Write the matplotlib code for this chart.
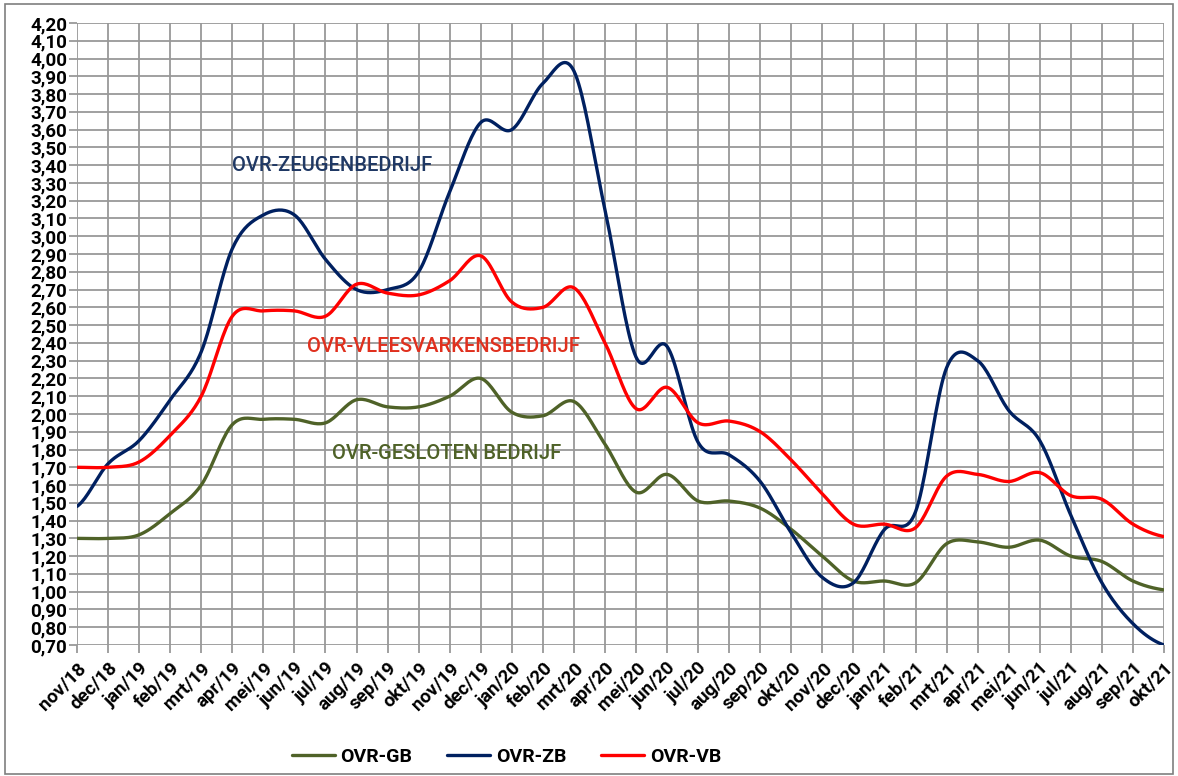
import numpy as np
import matplotlib.pyplot as plt
from matplotlib.ticker import MultipleLocator, FuncFormatter

# maanden nov/18 .. okt/21
maanden = ['nov/18', 'dec/18', 'jan/19', 'feb/19', 'mrt/19', 'apr/19', 'mei/19', 'jun/19',
           'jul/19', 'aug/19', 'sep/19', 'okt/19', 'nov/19', 'dec/19', 'jan/20', 'feb/20',
           'mrt/20', 'apr/20', 'mei/20', 'jun/20', 'jul/20', 'aug/20', 'sep/20', 'okt/20',
           'nov/20', 'dec/20', 'jan/21', 'feb/21', 'mrt/21', 'apr/21', 'mei/21', 'jun/21',
           'jul/21', 'aug/21', 'sep/21', 'okt/21']

ovr_gb = [1.30, 1.30, 1.32, 1.44, 1.60, 1.94, 1.97, 1.97, 1.95, 2.08, 2.04, 2.04,
          2.10, 2.20, 2.01, 1.99, 2.07, 1.83, 1.56, 1.66, 1.51, 1.51, 1.47, 1.35,
          1.20, 1.06, 1.06, 1.05, 1.27, 1.28, 1.25, 1.29, 1.20, 1.17, 1.06, 1.01]

ovr_zb = [1.48, 1.72, 1.85, 2.08, 2.35, 2.93, 3.12, 3.12, 2.87, 2.70, 2.70, 2.80,
          3.25, 3.64, 3.60, 3.86, 3.93, 3.15, 2.32, 2.38, 1.84, 1.77, 1.62, 1.33,
          1.08, 1.05, 1.35, 1.45, 2.26, 2.30, 2.02, 1.85, 1.43, 1.05, 0.82, 0.70]

ovr_vb = [1.70, 1.70, 1.73, 1.88, 2.10, 2.55, 2.58, 2.58, 2.55, 2.73, 2.68, 2.67,
          2.75, 2.89, 2.63, 2.60, 2.71, 2.40, 2.03, 2.15, 1.95, 1.96, 1.90, 1.74,
          1.55, 1.38, 1.38, 1.36, 1.65, 1.66, 1.62, 1.67, 1.54, 1.52, 1.38, 1.31]


# vloeiende lijn zoals in Excel (Catmull-Rom)
def glad(y, n=20):
    y = np.asarray(y, dtype=float)
    p = np.concatenate([[y[0]], y, [y[-1]]])
    xs, ys = [], []
    for i in range(len(y) - 1):
        p0, p1, p2, p3 = p[i], p[i + 1], p[i + 2], p[i + 3]
        t = np.linspace(0, 1, n, endpoint=False)
        v = 0.5 * (2 * p1 + (-p0 + p2) * t + (2 * p0 - 5 * p1 + 4 * p2 - p3) * t ** 2
                   + (-p0 + 3 * p1 - 3 * p2 + p3) * t ** 3)
        xs.extend(i + t)
        ys.extend(v)
    xs.append(len(y) - 1)
    ys.append(y[-1])
    return np.array(xs), np.array(ys)


plt.rcParams['font.family'] = ['Roboto', 'DejaVu Sans']

fig = plt.figure(figsize=(11.78, 7.76), dpi=100)
ax = fig.add_axes([77 / 1178, 1 - 645 / 776, (1164 - 77) / 1178, (645 - 23) / 776])

fig.patches.append(plt.Rectangle((0.004, 0.003), 0.992, 0.992, transform=fig.transFigure,
                                 fill=False, edgecolor='#7f7f7f', linewidth=1.2))

x = np.arange(len(maanden))
for data, kleur, naam in [(ovr_gb, '#4F6228', 'OVR-GB'),
                          (ovr_zb, '#002060', 'OVR-ZB'),
                          (ovr_vb, '#FF0000', 'OVR-VB')]:
    gx, gy = glad(data)
    ax.plot(gx, gy, color=kleur, linewidth=2.4, label=naam, solid_capstyle='round')

ax.set_xlim(0, len(maanden) - 1)
ax.set_ylim(0.70, 4.20)
ax.yaxis.set_major_locator(MultipleLocator(0.1))
ax.yaxis.set_major_formatter(FuncFormatter(lambda v, p: f'{v:.2f}'.replace('.', ',')))
ax.set_xticks(x)
ax.set_xticklabels(maanden, rotation=45, ha='right', rotation_mode='anchor')
ax.grid(True, color='#999999', linewidth=1.3)
ax.set_axisbelow(True)
for s in ax.spines.values():
    s.set_visible(False)
ax.tick_params(axis='both', color='#999999', width=1.3, length=6, labelsize=13.5)
for lab in ax.get_xticklabels() + ax.get_yticklabels():
    lab.set_fontweight('bold')
ax.tick_params(axis='y', pad=1)
ax.tick_params(axis='x', pad=4)

ax.text(5.0, 3.40, 'OVR-ZEUGENBEDRIJF', color='#1F3864', fontsize=14.5, va='center',
        fontweight='medium')
ax.text(7.4, 2.38, 'OVR-VLEESVARKENSBEDRIJF', color='#E0301E', fontsize=14.5, va='center',
        fontweight='medium')
ax.text(8.2, 1.78, 'OVR-GESLOTEN BEDRIJF', color='#4F6228', fontsize=14.5, va='center',
        fontweight='medium')

leg = fig.legend(loc='center', bbox_to_anchor=(0.43, 0.025), ncol=3, frameon=False,
                 handlelength=2.2, columnspacing=1.8, handletextpad=0.3,
                 prop={'weight': 'bold', 'size': 14})

fig.savefig('out.png', dpi=100)
